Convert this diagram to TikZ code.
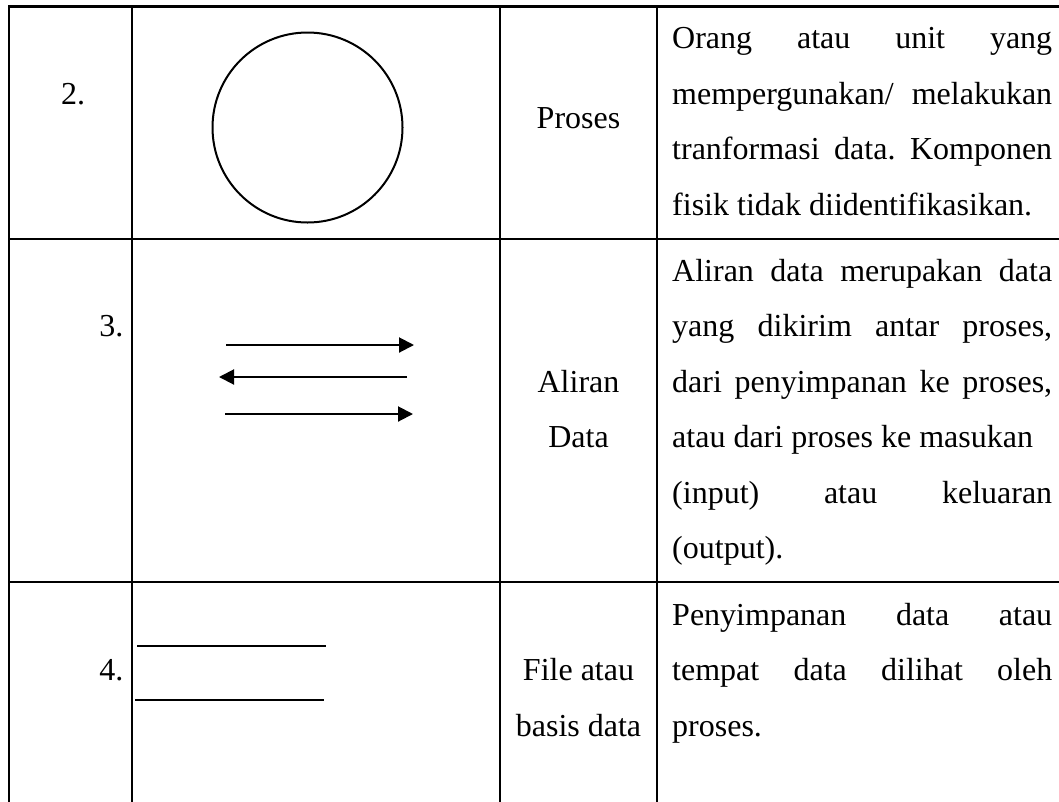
\documentclass[tikz,border=0pt]{standalone}
\usepackage{fontspec}
\setmainfont{Liberation Serif}
\usetikzlibrary{arrows.meta}
% a justified line of the description column
\newcommand\jline[1]{\makebox[380pt][s]{#1}}
\frenchspacing
\begin{document}
\begin{tikzpicture}[x=1pt,y=-1pt,
  grid/.style={line width=2.3pt, line join=miter},
  shapeline/.style={line width=2pt},
  flow/.style={line width=2pt, -{Triangle[length=15pt,width=15pt]}},
  txt/.style={inner sep=0pt, font=\fontsize{32}{55.5}\selectfont\frenchspacing},
]
\useasboundingbox[fill=white] (0,0) rectangle (1059,801);

% table rules (the table runs past the right and bottom edges)
\draw[grid] (1070,6.5) -- (9,6.5) -- (9,810);
\foreach \x in {132,500,657} \draw[grid] (\x,6.5) -- (\x,810);
\foreach \y in {239,582} \draw[grid] (9,\y) -- (1070,\y);

% row 2: process symbol
\node[draw, circle, shapeline, minimum size=190pt, inner sep=0pt] (proc) at (307.5,127.5) {};
\node[txt, anchor=base] (n2) at (73,104) {2.};
\node[txt, anchor=base] (proses) at (578.5,128) {Proses};
\node[txt, anchor=base west] (d1a) at (672,48.5) {\jline{Orang atau unit yang}};
\node[txt, anchor=base west] (d1b) at (672,104) {\jline{mempergunakan/ melakukan}};
\node[txt, anchor=base west] (d1c) at (672,159.5) {\jline{tranformasi data. Komponen}};
\node[txt, anchor=base west] (d1d) at (672,215) {fisik tidak diidentifikasikan.};

% row 3: data flow symbol
\coordinate (f1s) at (226,345);   \coordinate (f1e) at (414,345);
\coordinate (f2s) at (407,377);   \coordinate (f2e) at (219,377);
\coordinate (f3s) at (225,414);   \coordinate (f3e) at (413,414);
\draw[flow] (f1s) -- (f1e);
\draw[flow] (f2s) -- (f2e);
\draw[flow] (f3s) -- (f3e);
\node[txt, anchor=base east] (n3) at (123.5,336.5) {3.};
\node[txt, anchor=base] (aliran) at (578.5,392) {Aliran};
\node[txt, anchor=base] (data) at (578.5,447.5) {Data};
\node[txt, anchor=base west] (d2a) at (672,281) {\jline{Aliran data merupakan data}};
\node[txt, anchor=base west] (d2b) at (672,336.5) {\jline{yang dikirim antar proses,}};
\node[txt, anchor=base west] (d2c) at (672,392) {\jline{dari penyimpanan ke proses,}};
\node[txt, anchor=base west] (d2d) at (672,447.5) {atau dari proses ke masukan};
\node[txt, anchor=base west] (d2e) at (672,503) {\jline{(input) atau keluaran}};
\node[txt, anchor=base west] (d2f) at (672,558.5) {(output).};

% row 4: data store symbol
\coordinate (s1s) at (137,646);   \coordinate (s1e) at (326,646);
\coordinate (s2s) at (135,700);   \coordinate (s2e) at (324,700);
\draw[shapeline] (s1s) -- (s1e);
\draw[shapeline] (s2s) -- (s2e);
\node[txt, anchor=base east] (n4) at (123.5,680.5) {4.};
\node[txt, anchor=base] (file) at (578.5,680.5) {File atau};
\node[txt, anchor=base] (basis) at (578.5,736) {basis data};
\node[txt, anchor=base west] (d3a) at (672,625) {\jline{Penyimpanan data atau}};
\node[txt, anchor=base west] (d3b) at (672,680.5) {\jline{tempat data dilihat oleh}};
\node[txt, anchor=base west] (d3c) at (672,736) {proses.};
\end{tikzpicture}
\end{document}
